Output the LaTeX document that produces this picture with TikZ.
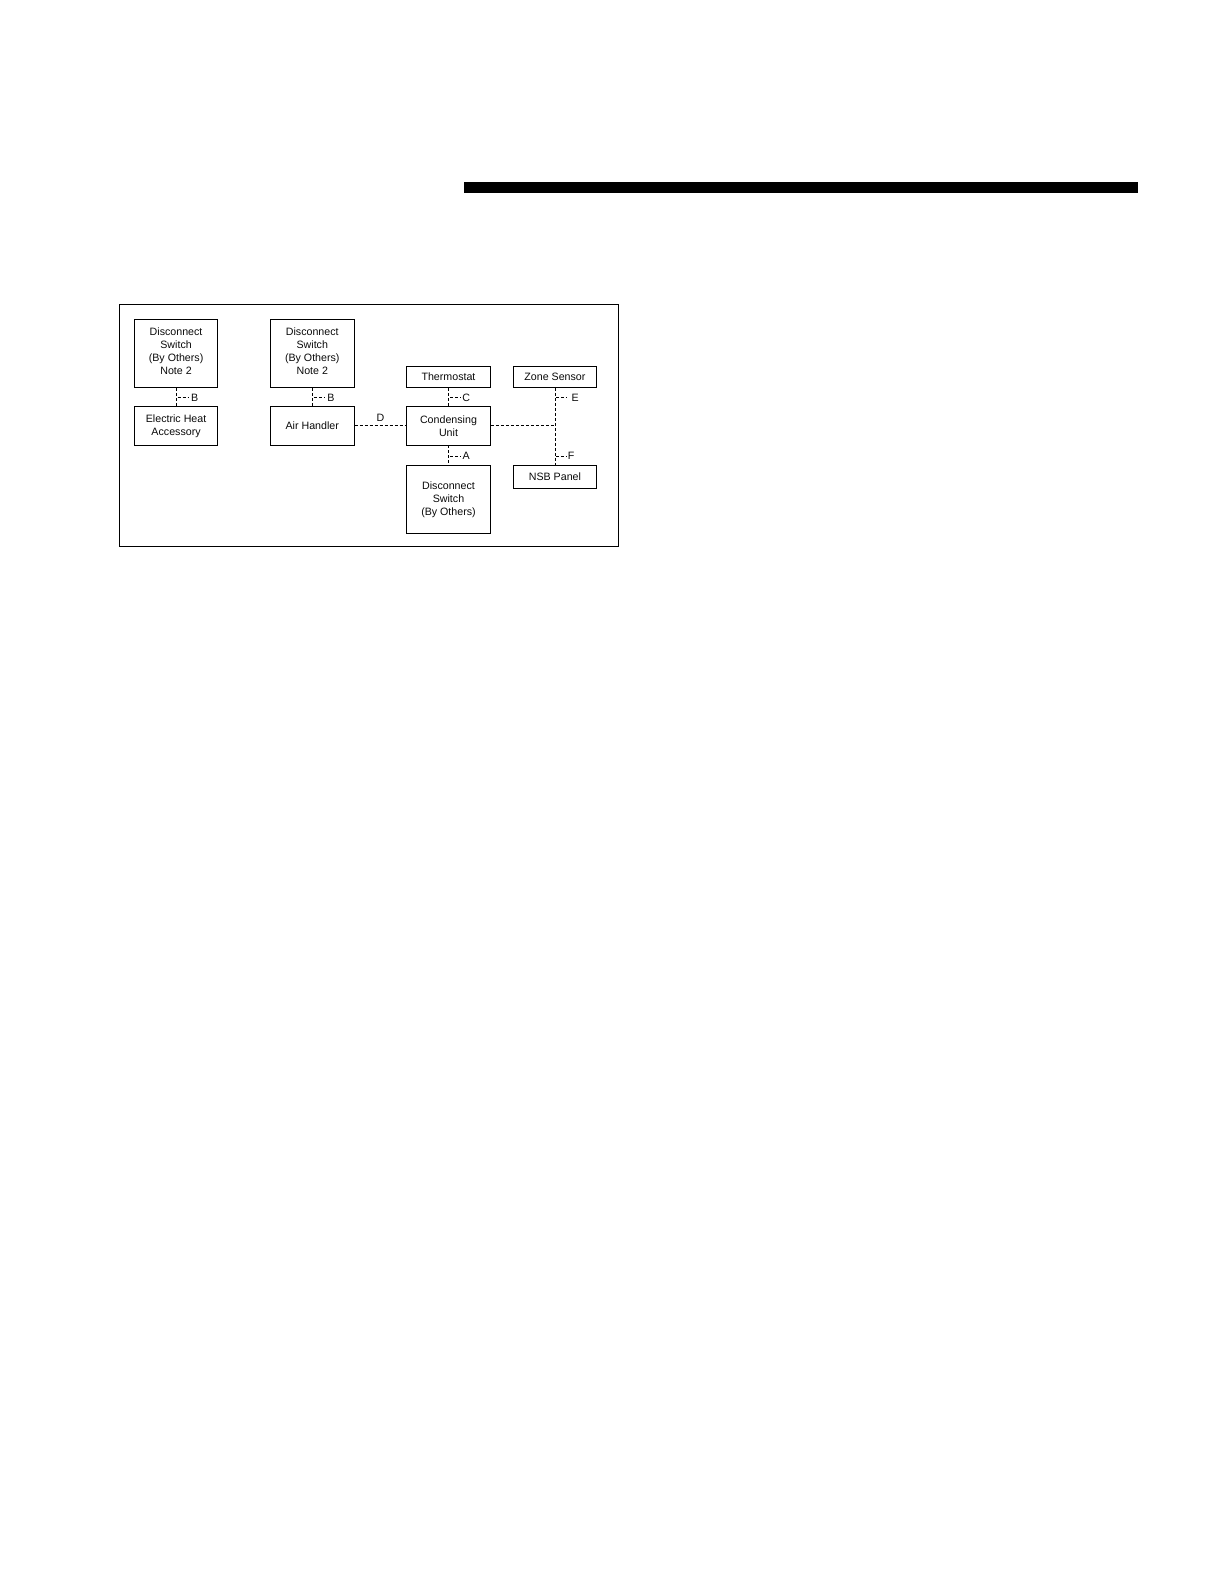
\documentclass[tikz,border=0pt]{standalone}
\usepackage{fontspec}
\setmainfont{Liberation Sans}
\usetikzlibrary{calc}
\definecolor{footblue}{RGB}{20,20,140}
\definecolor{txt}{RGB}{10,10,10}
\begin{document}
\begin{tikzpicture}[x=1.009bp,y=-1.009bp,
 box/.style={draw,line width=0.9bp,inner sep=0pt,minimum width=1.009*83bp,align=center,text=txt,font=\fontsize{10.7}{13.1}\selectfont},
 boxtext/.style={inner sep=0pt,align=center,text=txt,font=\fontsize{10.7}{13.1}\selectfont},
 dl/.style={line width=0.75bp,dash pattern=on 3bp off 2bp},
 lab/.style={inner sep=0pt,text=txt,font=\fontsize{10.7}{12}\selectfont}]
\useasboundingbox (0,0) rectangle (1213.1,1569.9);
\fill (460,180) rectangle (1128,191);
\draw[line width=0.9bp] (118,302) rectangle (613,542);
% boxes
\node[box,minimum height=1.009*67bp,
  label={[boxtext,yshift=2.2bp]center:{Disconnect\\Switch\\(By Others)\\Note 2}}] (ds1) at (174.5,350.5) {};
\node[box,minimum height=1.009*38bp] (eha) at (174.5,422) {Electric Heat\\Accessory};
\node[box,minimum height=1.009*67bp,
  label={[boxtext,yshift=2.2bp]center:{Disconnect\\Switch\\(By Others)\\Note 2}}] (ds2) at (309.5,350.5) {};
\node[box,minimum height=1.009*38bp] (ah) at (309.5,422) {Air Handler};
\node[box,minimum height=1.009*21bp] (th) at (444.5,373.5) {Thermostat};
\node[box,minimum height=1.009*38bp] (cu) at (444.5,422) {Condensing\\Unit};
\node[box,minimum height=1.009*68bp] (ds3) at (444.5,495) {Disconnect\\Switch\\(By Others)};
\node[box,minimum height=1.009*21bp,minimum width=1.009*82bp] (zs) at (550,373.5) {Zone Sensor};
\node[box,minimum height=1.009*23bp,minimum width=1.009*82bp] (nsb) at (550,472.5) {NSB Panel};
% connectors
\draw[dl] (ds1.south) -- (eha.north);
\draw[dl] (ds2.south) -- (ah.north);
\draw[dl] (ah.east) -- (cu.west);
\draw[dl] (th.south) -- (cu.north);
\draw[dl] (cu.south) -- (ds3.north);
\draw[dl] (zs.south) -- (nsb.north);
\draw[dl] (cu.east) -- (cu.east -| zs.south);
% labels
\coordinate (b1) at (176,394); \coordinate (b2) at (311,394);
\coordinate (c1) at (446,394); \coordinate (a1) at (446,452);
\coordinate (e1) at (551,394); \coordinate (f1) at (551,452);
\draw[dl] (b1) -- ++(11,0); \node[lab] at (193,394) {B};
\draw[dl] (b2) -- ++(11,0); \node[lab] at (328,394) {B};
\draw[dl] (c1) -- ++(10,0); \node[lab] at (462,394) {C};
\draw[dl] (a1) -- ++(10,0); \node[lab] at (462,452) {A};
\draw[dl] (e1) -- ++(11,0); \node[lab] at (570,394) {E};
\draw[dl] (f1) -- ++(10,0); \node[lab] at (566,452) {F};
\node[lab] at (377,414) {D};
% footer rule
\draw[footblue,line width=1.2bp] (127,1575) -- (269,1575);
\end{tikzpicture}
\end{document}
